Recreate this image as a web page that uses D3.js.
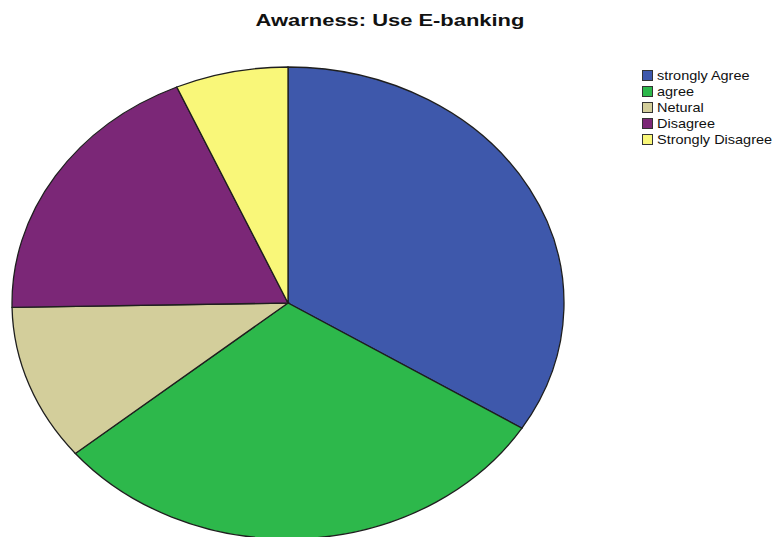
<!DOCTYPE html>
<html>
<head>
<meta charset="utf-8">
<script src="https://cdn.jsdelivr.net/npm/d3@7"></script>
<style>
  body { margin: 0; background: #fff; }
  text { font-family: "Liberation Sans", Arial, sans-serif; }
</style>
</head>
<body>
<svg id="canvas" width="775" height="537"></svg>
<script>
// data (percent of respondents)
let categories = ['strongly Agree', 'agree', 'Netural', 'Disagree', 'Strongly Disagree']
let values = [33.9, 30.1, 10.7, 18.7, 6.6]
let colors = ['#3e58ab', '#2db84b', '#d3ce9b', '#7b2777', '#f9f779']

let canvas = d3.select('#canvas')

// pie is a circle stretched sideways into an ellipse
let cx = 288, cy = 303
let ry = 236, rx = 276

let pie = d3.pie().sort(null).value(d => d)
let arc = d3.arc().innerRadius(0).outerRadius(ry)

let pieG = canvas.append('g')
    .attr('transform', `translate(${cx},${cy}) scale(${rx / ry},1)`)

pieG.selectAll('path')
    .data(pie(values))
    .enter()
    .append('path')
    .attr('d', arc)
    .attr('fill', (d, i) => colors[i])
    .attr('stroke', '#1e1e1e')
    .attr('stroke-width', 1.3)
    .attr('vector-effect', 'non-scaling-stroke')

// title
canvas.append('text')
    .attr('transform', 'translate(390,26) scale(1.29,1)')
    .attr('text-anchor', 'middle')
    .attr('font-size', 17)
    .attr('font-weight', 'bold')
    .attr('fill', '#111')
    .text('Awarness: Use E-banking')

// legend
let legend = canvas.append('g').attr('transform', 'translate(642,70)')

let rows = legend.selectAll('g')
    .data(categories)
    .enter()
    .append('g')
    .attr('transform', (d, i) => `translate(0,${i * 16})`)

rows.append('rect')
    .attr('x', 0.5)
    .attr('y', 0.5)
    .attr('width', 10)
    .attr('height', 10)
    .attr('fill', (d, i) => colors[i])
    .attr('stroke', '#333')
    .attr('stroke-width', 1)

rows.append('text')
    .attr('transform', 'translate(15,10) scale(1.16,1)')
    .attr('font-size', 12.5)
    .attr('fill', '#111')
    .text(d => d)
</script>
</body>
</html>
